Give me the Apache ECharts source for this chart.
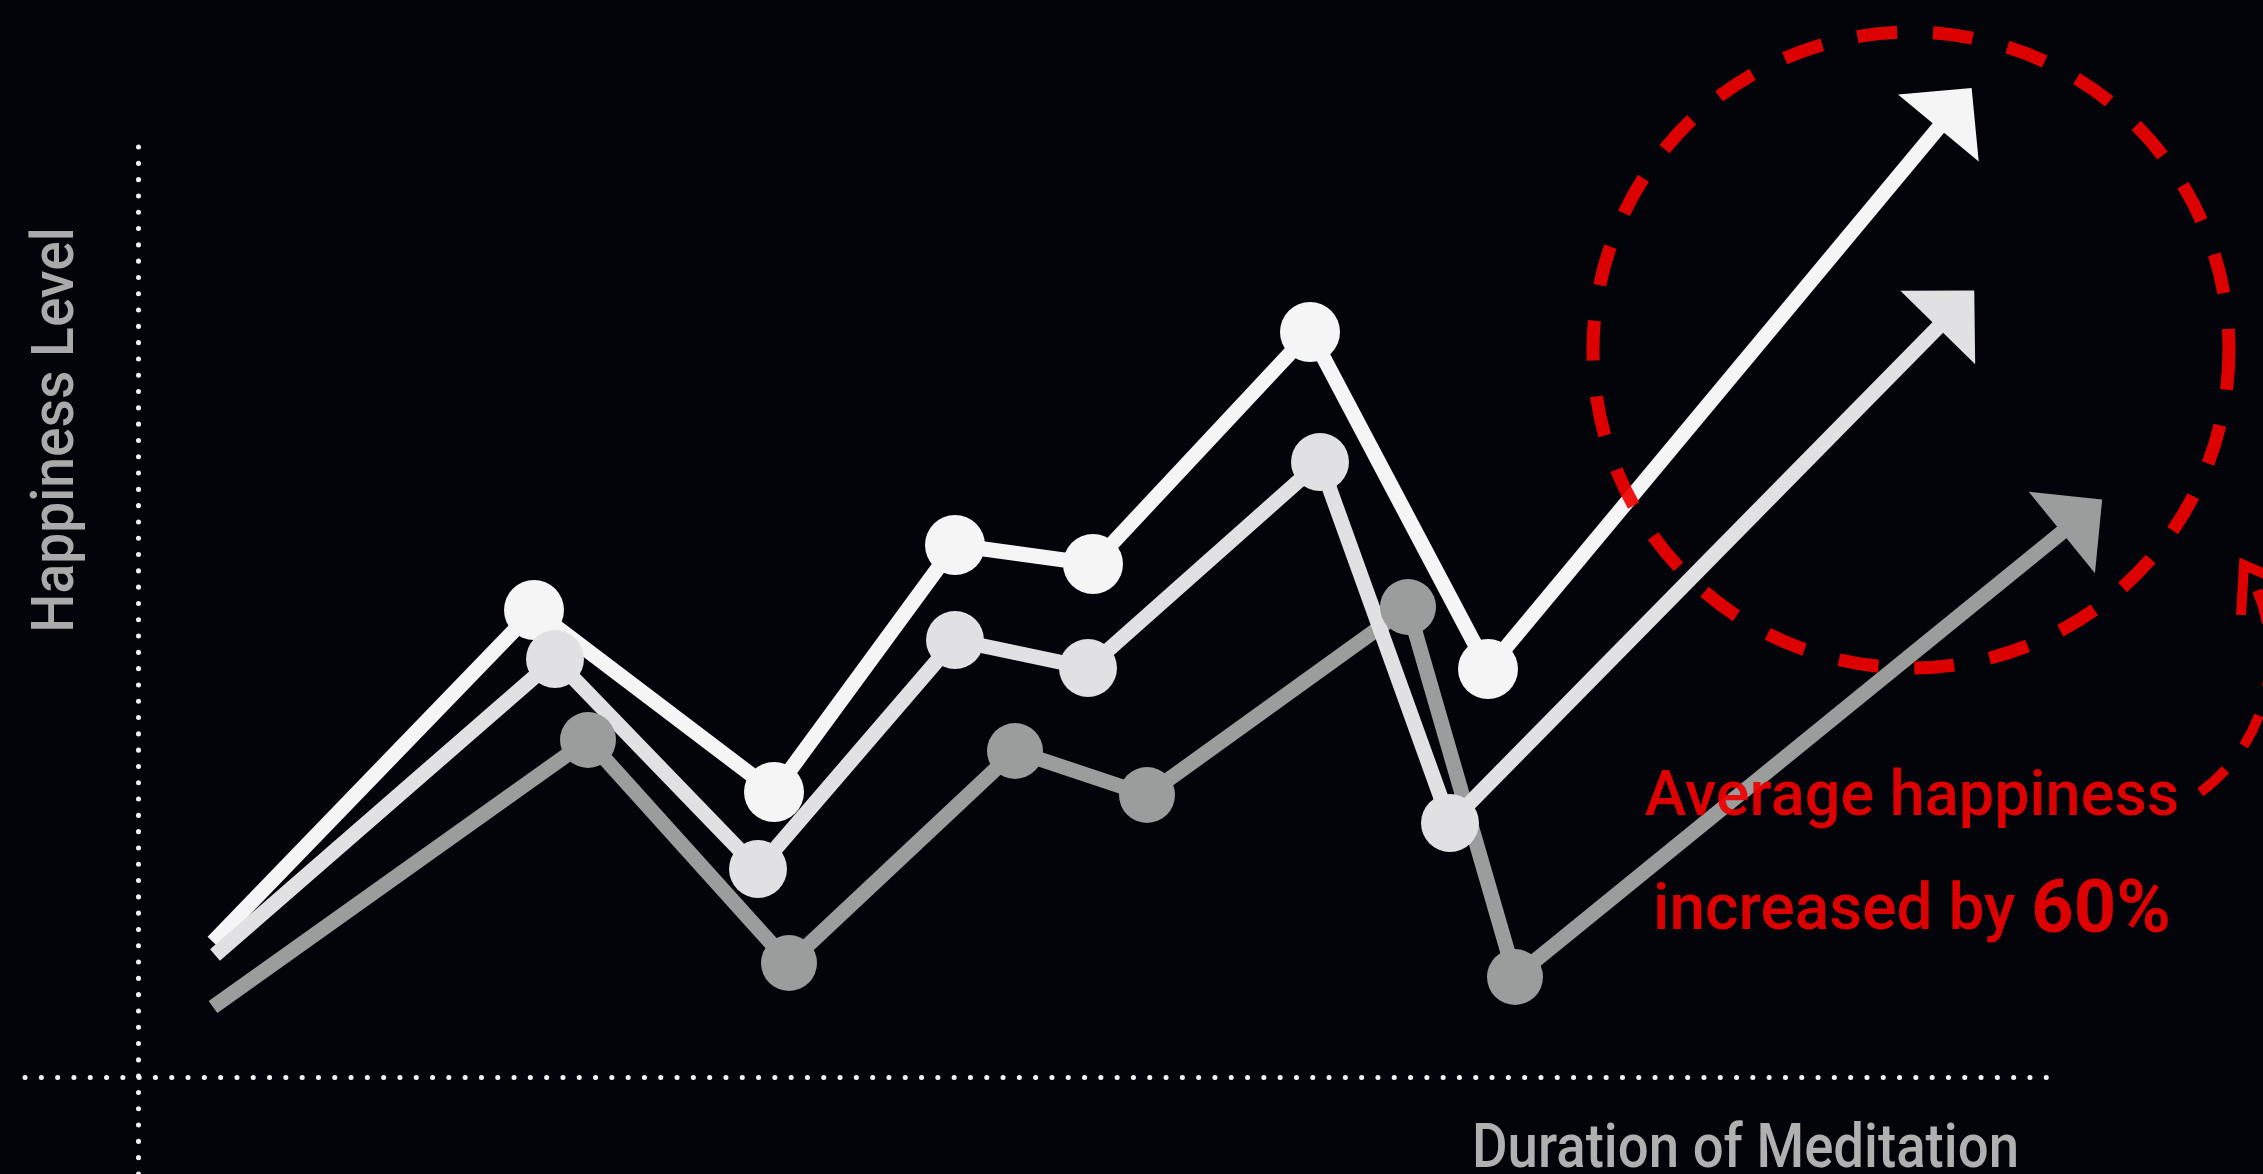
<!DOCTYPE html>
<html>
<head>
<meta charset="utf-8">
<title>Happiness vs Meditation</title>
<script src="https://cdn.jsdelivr.net/npm/echarts@6/dist/echarts.min.js"></script>
<style>
    html, body { margin: 0; padding: 0; background: #03040a; }
    #chart { width: 2263px; height: 1174px; }
</style>
</head>
<body>
<div id="chart"></div>
<script>
// points: [duration, happiness]
const upperLine = [[7.5, 13.5], [39.6, 46.7], [63.6, 28.5], [81.7, 53.2], [95.5, 51.3], [117.2, 74.5], [135.0, 40.8]]
const middleLine = [[7.7, 12.2], [41.7, 41.8], [62.0, 20.8], [81.7, 43.7], [95.0, 40.9], [118.2, 61.5], [131.2, 25.4]]
const lowerLine = [[7.5, 7.0], [45.0, 33.7], [65.1, 11.4], [87.7, 32.6], [100.9, 28.2], [127.0, 47.0], [137.7, 10.0]]

// where each trend arrow ends
const upperArrow = [181.7, 96.9]
const middleArrow = [181.8, 76.8]
const lowerArrow = [194.4, 56.1]

const xLabel = 'Duration of Meditation'
const yLabel = 'Happiness Level'
const noteLine1 = 'Average happiness'
const noteLine2 = 'increased by '
const notePct = '60%'

const RED = '#f00000'

function lineSeries(name, points, arrowEnd, color, size) {
    return {
        name: name,
        type: 'line',
        xAxisIndex: 1,
        yAxisIndex: 1,
        silent: true,
        animation: false,
        symbol: 'circle',
        symbolSize: size,
        showSymbol: true,
        itemStyle: { color: color, borderWidth: 0 },
        lineStyle: { color: color, width: 15 },
        emphasis: { disabled: true },
        data: points.map((p, i) => i === 0 ? { value: p, symbol: 'none' } : p),
        markLine: {
            silent: true,
            animation: false,
            symbol: ['none', 'triangle'],
            symbolSize: [105, 52],
            label: { show: false },
            emphasis: { disabled: true },
            itemStyle: { color: color },
            lineStyle: { color: color, width: 15, type: 'solid', opacity: 1 },
            data: [[{ coord: points[points.length - 1] }, { coord: arrowEnd }]]
        }
    }
}

const dotted = { color: '#f2f2f2', width: 5, type: [0.1, 16.2], cap: 'round' }

let chart = echarts.init(document.getElementById('chart'))
chart.setOption({
    backgroundColor: '#03040a',
    grid: [
        // grid 0 only carries the dotted axes
        { left: 25, right: 214, top: 142, bottom: 0 },
        // grid 1 holds the data and spans the whole picture
        { left: 0, right: 0, top: 0, bottom: 0 }
    ],
    xAxis: [
        {
            gridIndex: 0, type: 'value', min: -11.3, max: 191.1,
            axisLine: { show: true, onZero: true, lineStyle: dotted },
            axisTick: { show: false }, axisLabel: { show: false }, splitLine: { show: false }
        },
        { gridIndex: 1, type: 'value', min: -13.8, max: 212.5, show: false }
    ],
    yAxis: [
        {
            gridIndex: 0, type: 'value', min: -9.7, max: 93.5,
            axisLine: { show: true, onZero: true, lineStyle: dotted },
            axisTick: { show: false }, axisLabel: { show: false }, splitLine: { show: false }
        },
        { gridIndex: 1, type: 'value', min: -9.7, max: 107.7, show: false }
    ],
    series: [
        lineSeries('lower', lowerLine, lowerArrow, '#9b9d9d', 56),
        lineSeries('upper', upperLine, upperArrow, '#f5f5f5', 60),
        lineSeries('middle', middleLine, middleArrow, '#e1e1e3', 58)
    ],
    graphic: [
        {
            type: 'text', x: 58, y: 430, rotation: Math.PI / 2, scaleX: 0.92,
            style: { text: yLabel, fill: '#aaaaaa', fontFamily: 'Roboto', fontWeight: 500, fontSize: 60, align: 'center', verticalAlign: 'middle' }
        },
        {
            type: 'text', x: 1472, y: 1151, scaleX: 0.88,
            style: { text: xLabel, fill: '#b0b0b0', fontFamily: 'Roboto', fontWeight: 500, fontSize: 62, align: 'left', verticalAlign: 'middle' }
        },
        {
            type: 'circle', z: 100,
            shape: { cx: 1911, cy: 350, r: 318 },
            style: { fill: null, stroke: RED, lineWidth: 13, lineDash: [40, 36], opacity: 0.92 }
        },
        {
            type: 'arc', z: 100,
            shape: { cx: 2100, cy: 655, r: 170, startAngle: 0.94, endAngle: -0.56, clockwise: false },
            style: { fill: null, stroke: RED, lineWidth: 10, lineDash: [34, 30], opacity: 0.92 }
        },
        {
            type: 'polyline', z: 100,
            shape: { points: [[2241, 615], [2244, 565], [2290, 585]] },
            style: { fill: null, stroke: RED, lineWidth: 10, opacity: 0.92 }
        },
        {
            type: 'text', z: 100, x: 1912, y: 799,
            style: { text: noteLine1, fill: RED, fontFamily: 'Roboto', fontWeight: 500, fontSize: 63, align: 'center', verticalAlign: 'middle', opacity: 0.92 }
        },
        {
            type: 'text', z: 100, x: 1912, y: 913,
            style: {
                text: '{r|' + noteLine2 + '}{b|' + notePct + '}',
                align: 'center', verticalAlign: 'middle', opacity: 0.92,
                rich: {
                    r: { fill: RED, fontFamily: 'Roboto', fontWeight: 500, fontSize: 64 },
                    b: { fill: RED, fontFamily: 'Roboto', fontSize: 74, fontWeight: 'bold' }
                }
            }
        }
    ]
})
window.addEventListener('resize', () => {
    chart.resize()
})
</script>
</body>
</html>
